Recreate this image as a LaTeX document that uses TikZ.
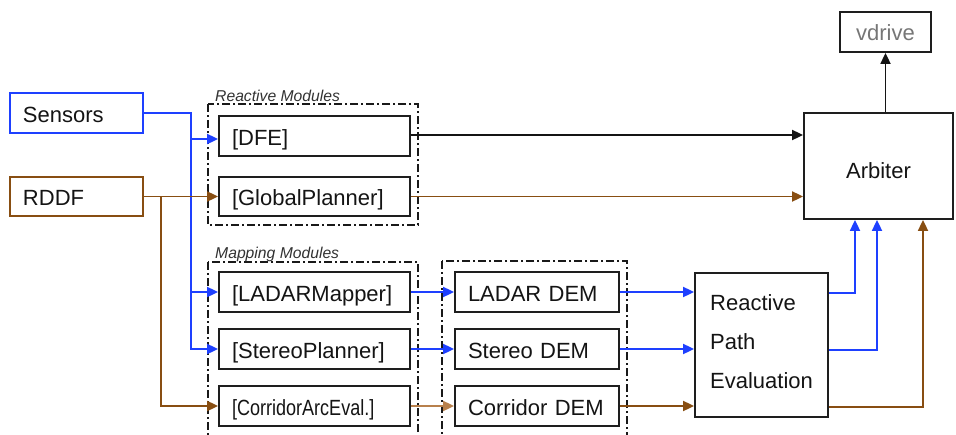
\documentclass[tikz,border=0pt]{standalone}
\usepackage{fontspec}
\setmainfont{Liberation Sans}
\usepackage{graphicx}
\usetikzlibrary{arrows.meta}

\definecolor{sigblue}{RGB}{30,64,255}
\definecolor{rddfbrown}{RGB}{136,78,18}
\definecolor{tanbrown}{RGB}{184,128,76}
\definecolor{boxline}{RGB}{30,30,30}
\definecolor{grouplbl}{RGB}{50,50,50}
\definecolor{greytext}{RGB}{118,118,118}

\begin{document}
\begin{tikzpicture}[x=1pt,y=-1pt,
  blk/.style={draw=boxline, line width=1.8pt, rectangle, inner xsep=13pt, inner ysep=0pt,
    text height=18pt, text depth=0pt, align=left,
    font=\fontsize{22}{26}\selectfont, text=black!92},
  grp/.style={draw=black!90, line width=1.4pt, dash pattern=on 8pt off 3pt on 2pt off 3pt},
  grplabel/.style={anchor=base west, inner sep=0pt,
    font=\fontsize{15.7}{18}\selectfont\itshape, text=grouplbl},
  wire/.style={line width=1.8pt, -{Triangle[length=11pt,width=10pt]}},
  bluewire/.style={wire, draw=sigblue},
  brownwire/.style={wire, draw=rddfbrown},
  tanwire/.style={wire, draw=tanbrown},
  blackwire/.style={wire, draw=black!92}
]
\useasboundingbox (0,0) rectangle (956,434);
\clip (0,0) rectangle (956,434);

% module groups
\draw[grp] (208,104) rectangle (418,225);
\draw[grp] (208,262) rectangle (418,450);
\draw[grp] (442,261) rectangle (627,450);
\node[grplabel] (reactlbl) at (215,101) {Reactive Modules};
\node[grplabel] (maplbl) at (215,258) {Mapping Modules};

% inputs
\node[blk, draw=sigblue, minimum width=133pt, minimum height=40pt, text width=107pt] (sensors) at (76.5,113) {Sensors};
\node[blk, draw=rddfbrown, minimum width=133pt, minimum height=39pt, text width=107pt] (rddf) at (76.5,196.5) {RDDF};

% reactive modules
\node[blk, minimum width=191pt, minimum height=40pt, text width=165pt] (dfe) at (314.5,136) {[DFE]};
\node[blk, minimum width=191pt, minimum height=39pt, text width=165pt] (gp) at (314.5,196.5) {[GlobalPlanner]};

% mapping modules
\node[blk, minimum width=191pt, minimum height=40pt, text width=165pt] (ladarm) at (314.5,292) {[LADARMapper]};
\node[blk, minimum width=191pt, minimum height=40pt, text width=165pt] (stereop) at (314.5,349) {[StereoPlanner]};
\node[blk, minimum width=191pt, minimum height=40pt, text width=165pt] (corr) at (314.5,406) {\scalebox{0.82}[1]{[CorridorArcEval.]}};

% elevation maps
\node[blk, minimum width=164pt, minimum height=40pt, text width=138pt] (ldem) at (537,292) {LADAR DEM};
\node[blk, minimum width=164pt, minimum height=40pt, text width=138pt] (sdem) at (537,349) {Stereo DEM};
\node[blk, minimum width=164pt, minimum height=40pt, text width=138pt] (cdem) at (537,406) {Corridor DEM};

% path evaluation
\node[blk, minimum width=133pt, minimum height=144pt] (rpe) at (761.5,345) {};
\node[anchor=north west, inner sep=0pt, align=left, font=\fontsize{22}{39}\selectfont, text=black!92] (rpetext) at (710,294.5) {Reactive\\Path\\Evaluation};

% arbiter and output
\node[blk, align=center, inner xsep=0pt, text height=24pt, minimum width=149pt, minimum height=106pt] (arb) at (878.5,166) {Arbiter};
\node[blk, align=center, inner xsep=0pt, text height=16pt, minimum width=91pt, minimum height=40pt, text=greytext] (vdrive) at (885.5,32) {vdrive};

% sensor bus
\coordinate (sbus) at (191,0);
\coordinate (dfein) at ([yshift=-3pt]dfe.west);
\draw[bluewire] (sensors.east) -| (sbus |- stereop.west) -- (stereop.west);
\draw[bluewire] (sbus |- dfein) -- (dfein);
\draw[bluewire] (sbus |- ladarm.west) -- (ladarm.west);

% RDDF bus
\coordinate (rbus) at (161,0);
\draw[brownwire] (rddf.east) -- (gp.west);
\draw[brownwire] (rddf.east -| rbus) |- (corr.west);

% reactive outputs
\draw[blackwire] (dfe.east |- 0,135) -- (arb.west |- 0,135);
\draw[brownwire] (gp.east) -- (gp.east -| arb.west);
\draw[blackwire] (vdrive.south |- arb.north) -- (vdrive.south);

% maps
\draw[bluewire] (ladarm.east) -- (ldem.west);
\draw[bluewire] (stereop.east) -- (sdem.west);
\draw[tanwire] (corr.east) -- (cdem.west);
\draw[bluewire] (ldem.east) -- (ldem.east -| rpe.west);
\draw[bluewire] (sdem.east) -- (sdem.east -| rpe.west);
\draw[brownwire] (cdem.east) -- (cdem.east -| rpe.west);

% path evaluation to arbiter
\coordinate (o1) at (855,0);
\coordinate (o2) at (877,0);
\coordinate (o3) at (923,0);
\draw[bluewire] (rpe.east |- 0,293) -| (o1 |- arb.south);
\draw[bluewire] (rpe.east |- 0,350) -| (o2 |- arb.south);
\draw[brownwire] (rpe.east |- 0,407) -| (o3 |- arb.south);
\end{tikzpicture}
\end{document}
